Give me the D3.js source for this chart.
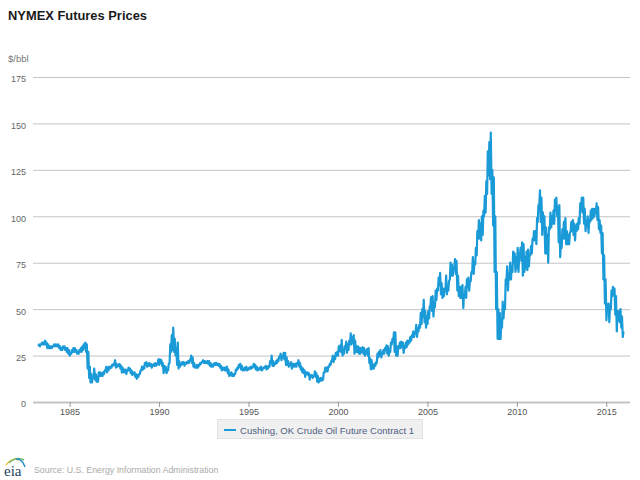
<!DOCTYPE html>
<html>
<head>
<meta charset="utf-8">
<script src="https://d3js.org/d3.v7.min.js"></script>
<style>
  html, body { margin: 0; padding: 0; background: #fff; }
  svg { display: block; font-family: "Liberation Sans", Arial, sans-serif; }
</style>
</head>
<body>
<svg width="640" height="480"></svg>
<script>
// monthly low and high of the front contract, starting April 1983
const monthlyLow = [
  30, 30, 31, 31, 31, 31, 29, 29, 29,
  29, 30, 30, 30, 30, 29, 28, 28, 29, 28, 27, 26,
  25, 26, 27, 27, 27, 26, 26, 27, 27, 28, 29, 27,
  18, 13, 10.5, 10.5, 13, 12, 11, 11, 14, 14, 14, 15,
  17, 16, 17, 18, 18.5, 19.5, 20, 18.5, 19, 19.5, 18, 16,
  16, 16, 15, 17, 17, 15.5, 14.5, 15, 13.5, 12.5, 13.5, 15,
  17, 17.5, 18, 20, 19, 19.5, 19.5, 18.5, 19.5, 19.5, 19.5, 20.5,
  20, 21, 19.5, 15.5, 16.5, 15.5, 17, 21, 27, 28, 27, 25,
  20, 18, 19, 20, 20.5, 19.5, 20.5, 21, 21, 22.5, 21, 19,
  18.5, 18.5, 18.5, 19.5, 20.5, 21.5, 21, 21, 21, 20.5, 19.5, 19,
  19, 20, 20, 20, 19.5, 18.5, 17, 17.5, 17, 17, 15.5, 14,
  14.5, 14, 14, 15, 17, 18, 19, 17.5, 17, 17, 17.5, 17,
  17.5, 18, 18, 19, 18.5, 17.5, 17, 17.5, 17.5, 17, 18, 18.5,
  17.5, 18, 19, 21, 19.5, 19.5, 20.5, 21, 22, 24, 22.5, 24,
  23, 20, 20, 19, 20, 18, 19, 19, 19, 20.5, 19, 17.5,
  16, 15.5, 13.5, 15, 14.5, 12, 13.5, 13, 14, 13.5, 11, 10.5,
  11.5, 11.5, 12, 16, 16.5, 16.5, 19, 20, 22.5, 21.5, 23, 25,
  25, 27.5, 27, 25, 26, 29, 26.5, 28, 31, 31, 32, 26,
  27, 27, 26, 26, 27, 26, 25, 26, 25, 21, 17.5, 18,
  18, 19.5, 21, 24, 25, 24, 26, 26, 28, 26, 25, 27,
  31, 33, 27, 25, 25, 29, 29, 30, 26.5, 29, 29.5, 31,
  32, 33, 35, 35, 37, 35, 38, 40, 42, 46, 43, 40,
  42, 45, 52, 49, 46, 51, 55, 60, 63, 58, 56, 57,
  60, 58, 60, 66, 68, 68, 72, 69, 60, 57, 56, 56,
  50.5, 57, 56, 62, 60, 65, 70, 69, 74, 79, 88, 88,
  87, 90, 100, 102, 112, 122, 120, 112, 95, 70, 50, 34,
  34, 34, 40, 45, 50, 66, 60, 66, 66, 70, 75, 70,
  72, 70, 78, 76, 68, 70, 72, 71, 73, 79, 80, 87,
  87, 85, 97, 106, 97, 90, 93, 80, 80, 75, 93, 94,
  96, 96, 103, 100, 86, 78, 83, 88, 88, 85, 85, 85,
  92, 92, 90, 87, 92, 93, 96, 103, 102, 96, 92, 95,
  91, 97, 98, 99, 100, 102, 98, 93, 91, 80, 66, 53,
  44, 49, 43, 50, 57, 58, 47, 38, 44, 43, 40, 35
]
const monthlyHigh = [
  31, 31, 32, 32, 33, 32, 31, 30, 30,
  30, 31, 31, 31, 31, 30, 29, 30, 30, 29, 29, 28,
  26, 28, 29, 29, 28, 27, 28, 29, 30, 31, 32, 31,
  27, 19, 15, 14, 18, 15, 13.5, 16, 16, 15.5, 16, 17,
  19, 18.5, 19, 19, 20, 20.5, 22.5, 20.5, 20, 20.5, 19.5, 18.5,
  17.5, 17.5, 17, 18.5, 18, 17, 16, 16, 15, 14.5, 15, 17,
  19, 19, 21, 21.5, 20.5, 21, 20.5, 20, 20.5, 21, 20.5, 23,
  23, 22.5, 21, 19.5, 19, 17.5, 20.5, 31, 36, 40, 34, 29,
  32, 22, 20.5, 21.5, 21.5, 21, 21.5, 22, 22.5, 25, 24, 21,
  19.5, 20, 20, 21, 21.5, 22.5, 22, 21.8, 22, 22, 21, 20,
  20.5, 21, 21, 20.5, 20.5, 19.5, 18.5, 18.5, 18.5, 19, 17.5, 15.5,
  16, 15, 15, 17.5, 18.5, 20, 20.5, 19.5, 18, 18.5, 19, 18,
  18.5, 19, 19, 20.5, 20, 19, 18, 18.5, 19, 18, 18.8, 19.5,
  19, 19.5, 22, 25, 22, 21, 22, 23, 24.5, 26, 24.5, 26.5,
  26.5, 24, 22, 20, 21.5, 20.5, 20.5, 20.5, 21, 22.5, 21, 19,
  18, 17, 16, 16, 15.5, 14.5, 14.5, 14, 16.5, 15.5, 14, 12.5,
  13, 12.5, 16, 18.5, 18.5, 19, 20.5, 22, 25, 24.5, 26.5, 27,
  30, 30.5, 33.5, 28, 30, 32.5, 31, 33, 37, 35, 36, 33,
  30, 30, 29, 29, 29.5, 29, 27.5, 28.5, 29, 23.5, 22.5, 20,
  20.5, 21.5, 26, 27, 28, 26, 28, 29, 30.5, 30, 27.5, 32,
  34, 37.5, 37.5, 30, 30, 32, 32.5, 32, 30, 32, 33, 33,
  35, 36, 38, 37.5, 41.5, 39.5, 41.5, 48, 50, 55, 49, 46,
  49, 51.5, 56.5, 57, 52, 60, 61, 67, 69.5, 64, 61, 61,
  68, 63, 65, 75, 74, 72, 77, 76, 68, 62, 62, 63,
  58, 62, 66, 67, 65, 70, 78, 75, 83, 92, 98, 96,
  100, 103, 111, 119, 135, 140, 145, 125, 121, 100, 70, 50,
  48, 45, 54, 52, 66, 73, 69, 75, 73, 81, 80, 78,
  83, 80, 83, 86, 85, 78, 81, 82, 79, 84, 88, 92,
  92, 99, 106, 114, 110, 102, 100, 94, 90, 94, 102, 100,
  103, 109, 110, 105, 106, 85, 93, 97, 99, 92, 90, 91,
  97, 98, 96, 95, 96, 99, 107, 110, 110, 104, 97, 100,
  98, 103, 104, 104, 104, 107, 105, 98, 95, 91, 79, 66,
  53, 53, 51, 60, 62, 61, 57, 49, 49, 50, 46, 38
]
const yTicks = [0, 25, 50, 75, 100, 125, 150, 175]
const xTickYears = [1985, 1990, 1995, 2000, 2005, 2010, 2015]

const titleText = 'NYMEX Futures Prices'
const unitText = '$/bbl'
const legendText = 'Cushing, OK Crude Oil Future Contract 1'
const sourceText = 'Source: U.S. Energy Information Administration'

// low at the start of each month, high in the middle of it
const series = []
monthlyLow.forEach((low, i) => {
  series.push({ date: new Date(1983, 3 + i, 4), value: low })
  series.push({ date: new Date(1983, 3 + i, 18), value: monthlyHigh[i] })
})

const svg = d3.select('svg')

const x = d3.scaleTime()
  .domain([new Date(1982, 11, 1), new Date(2016, 3, 15)])
  .range([32.3, 629.3])

const y = d3.scaleLinear()
  .domain([0, 175])
  .range([402, 77])

// grid lines + y labels
const yAxis = svg.append('g')
    .attr('transform', 'translate(33,0)')
    .call(d3.axisLeft(y).tickValues(yTicks).tickSize(-597).tickPadding(7))
yAxis.select('.domain').remove()
yAxis.selectAll('.tick line')
    .attr('stroke', '#c4c4c4')
    .attr('stroke-width', d => d === 0 ? 2 : 1)
yAxis.selectAll('.tick text')
    .attr('fill', '#666')
    .attr('font-size', 9)
    .attr('font-family', '"Liberation Sans", Arial, sans-serif')
    .attr('transform', 'translate(0,2)')

const xAxis = svg.append('g')
    .attr('transform', 'translate(0,402)')
    .call(d3.axisBottom(x)
      .tickValues(xTickYears.map(d => new Date(d, 0, 1)))
      .tickFormat(d3.timeFormat('%Y'))
      .tickSize(5)
      .tickPadding(2))
xAxis.select('.domain').remove()
xAxis.selectAll('.tick line').attr('stroke', '#999')
xAxis.selectAll('.tick text')
    .attr('fill', '#555')
    .attr('font-size', 9)
    .attr('font-family', '"Liberation Sans", Arial, sans-serif')

const line = d3.line()
  .x(d => x(d.date))
  .y(d => y(d.value))

svg.append('path')
    .datum(series)
    .attr('fill', 'none')
    .attr('stroke', '#1b9ad8')
    .attr('stroke-width', 2.2)
    .attr('stroke-linejoin', 'round')
    .attr('d', line)

// title and unit
svg.append('text')
    .attr('x', 8).attr('y', 20)
    .attr('font-size', 12.9)
    .attr('font-weight', 'bold')
    .attr('fill', '#1a1a1a')
    .text(titleText)

svg.append('text')
    .attr('x', 8).attr('y', 62)
    .attr('font-size', 9.5)
    .attr('fill', '#777')
    .text(unitText)

// legend
const legend = svg.append('g')
legend.append('rect')
    .attr('x', 217.5).attr('y', 419.5)
    .attr('width', 205).attr('height', 19)
    .attr('fill', '#f0f0f0')
    .attr('stroke', '#e2e2e2')
legend.append('line')
    .attr('x1', 224).attr('x2', 236)
    .attr('y1', 430).attr('y2', 430)
    .attr('stroke', '#1b9ad8')
    .attr('stroke-width', 2)
legend.append('text')
    .attr('x', 240).attr('y', 434)
    .attr('font-size', 9.55)
    .attr('fill', '#4d6080')
    .text(legendText)

// eia mark and source line
const logo = svg.append('g')
logo.append('path')
    .attr('d', 'M6,465 Q12,457 19,460')
    .attr('fill', 'none').attr('stroke', '#e8c84a').attr('stroke-width', 1.5)
logo.append('path')
    .attr('d', 'M9,463 Q16,456 24,460')
    .attr('fill', 'none').attr('stroke', '#6db86b').attr('stroke-width', 1.5)
logo.append('path')
    .attr('d', 'M16,459 Q22,458 25,467')
    .attr('fill', 'none').attr('stroke', '#2a8fc9').attr('stroke-width', 1.5)
logo.append('text')
    .attr('x', 4).attr('y', 476)
    .attr('font-size', 15)
    .attr('font-family', '"Liberation Serif", serif')
    .attr('fill', '#1c3f66')
    .text('eia')

svg.append('text')
    .attr('x', 34).attr('y', 473)
    .attr('font-size', 8.8)
    .attr('fill', '#aaa')
    .text(sourceText)
</script>
</body>
</html>
